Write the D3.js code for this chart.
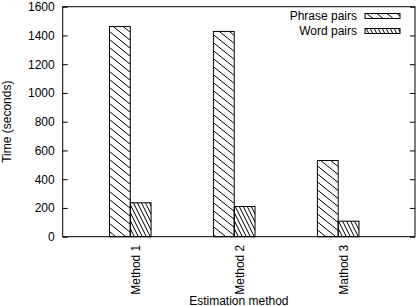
<!DOCTYPE html>
<html>
<head>
<meta charset="utf-8">
<script src="https://cdn.jsdelivr.net/npm/d3@7"></script>
<style>
  body { margin: 0; background: #fff; }
  text { font-family: "Liberation Sans", Arial, sans-serif; font-size: 12px; fill: #000; }
</style>
</head>
<body>
<div id="chart"></div>
<script>
const methods = ["Method 1", "Method 2", "Mathod 3"];
const phrasePairs = [1462, 1428, 530];
const wordPairs = [236, 210, 108];
const seriesNames = ["Phrase pairs", "Word pairs"];
const yTicks = [0, 200, 400, 600, 800, 1000, 1200, 1400, 1600];

const width = 418;
const height = 306;
const margin = { top: 6.7, right: 3, bottom: 69.3, left: 62.7 };

const svg = d3.select("#chart")
  .append("svg")
  .attr("width", width)
  .attr("height", height);

const defs = svg.append("defs");

// gnuplot-like hatch patterns
const phrasePat = defs.append("pattern")
  .attr("id", "hatchPhrase")
  .attr("patternUnits", "userSpaceOnUse")
  .attr("width", 10).attr("height", 8);
phrasePat.append("path").attr("d", "M0,0L10,8M-10,0L0,8M10,0L20,8M0,-8L10,0M0,8L10,16")
  .attr("stroke", "#000").attr("stroke-width", 1);

const wordPat = defs.append("pattern")
  .attr("id", "hatchWord")
  .attr("patternUnits", "userSpaceOnUse")
  .attr("width", 4).attr("height", 8);
wordPat.append("path").attr("d", "M0,0L4,8M-4,0L0,8M4,0L8,8")
  .attr("stroke", "#000").attr("stroke-width", 1);

const fills = ["url(#hatchPhrase)", "url(#hatchWord)"];

const x = d3.scaleLinear()
  .domain([-0.65, 2.739])
  .range([margin.left, width - margin.right]);

const y = d3.scaleLinear()
  .domain([0, 1600])
  .range([height - margin.bottom, margin.top]);

const barW = 0.2;

const data = methods.map((m, i) => ({ m, i, vals: [phrasePairs[i], wordPairs[i]] }));

// bars
const groups = svg.selectAll(".cat")
  .data(data)
  .enter().append("g");

groups.selectAll("rect")
  .data(d => d.vals.map((v, s) => ({ i: d.i, v, s })))
  .enter().append("rect")
  .attr("x", d => x(d.i - barW + d.s * barW))
  .attr("width", x(barW) - x(0))
  .attr("y", d => y(d.v))
  .attr("height", d => y(0) - y(d.v))
  .attr("fill", d => fills[d.s])
  .attr("stroke", "#000")
  .attr("stroke-width", 1);

// y axis (left, inward ticks) and mirror
svg.append("g")
  .attr("transform", `translate(${margin.left},0)`)
  .call(d3.axisLeft(y).tickValues(yTicks).tickSize(-5).tickPadding(8).tickFormat(d3.format("d")))
  .call(g => g.select(".domain").remove())
  .call(g => g.selectAll("text").style("font-size", "12px").style("font-family", "Liberation Sans, Arial, sans-serif"));

svg.append("g")
  .attr("transform", `translate(${width - margin.right},0)`)
  .call(d3.axisRight(y).tickValues(yTicks).tickSize(-5).tickFormat(""))
  .call(g => g.select(".domain").remove());

// frame
svg.append("rect")
  .attr("x", margin.left)
  .attr("y", margin.top)
  .attr("width", width - margin.right - margin.left)
  .attr("height", height - margin.bottom - margin.top)
  .attr("fill", "none")
  .attr("stroke", "#000")
  .attr("stroke-width", 1);

// x category labels, rotated
svg.selectAll(".xlab")
  .data(methods)
  .enter().append("text")
  .attr("transform", (d, i) => `translate(${x(i) + 6},${y(0) + 8}) rotate(-90)`)
  .attr("text-anchor", "end")
  .attr("dy", "0.35em")
  .text(d => d);

// axis titles
svg.append("text")
  .attr("transform", `translate(7,${(margin.top + height - margin.bottom) / 2}) rotate(-90)`)
  .attr("text-anchor", "middle")
  .attr("dy", "0.35em")
  .text("Time (seconds)");

svg.append("text")
  .attr("x", (margin.left + width - margin.right) / 2)
  .attr("y", 305)
  .attr("text-anchor", "middle")
  .text("Estimation method");

// legend
const legend = svg.append("g");
seriesNames.forEach((name, s) => {
  const cy = 16 + s * 15;
  legend.append("text")
    .attr("x", 357)
    .attr("y", cy)
    .attr("dy", "0.35em")
    .attr("text-anchor", "end")
    .text(name);
  legend.append("rect")
    .attr("x", 365)
    .attr("y", cy - 2.5)
    .attr("width", 35)
    .attr("height", 5)
    .attr("fill", fills[s])
    .attr("stroke", "#000")
    .attr("stroke-width", 1);
});
</script>
</body>
</html>
